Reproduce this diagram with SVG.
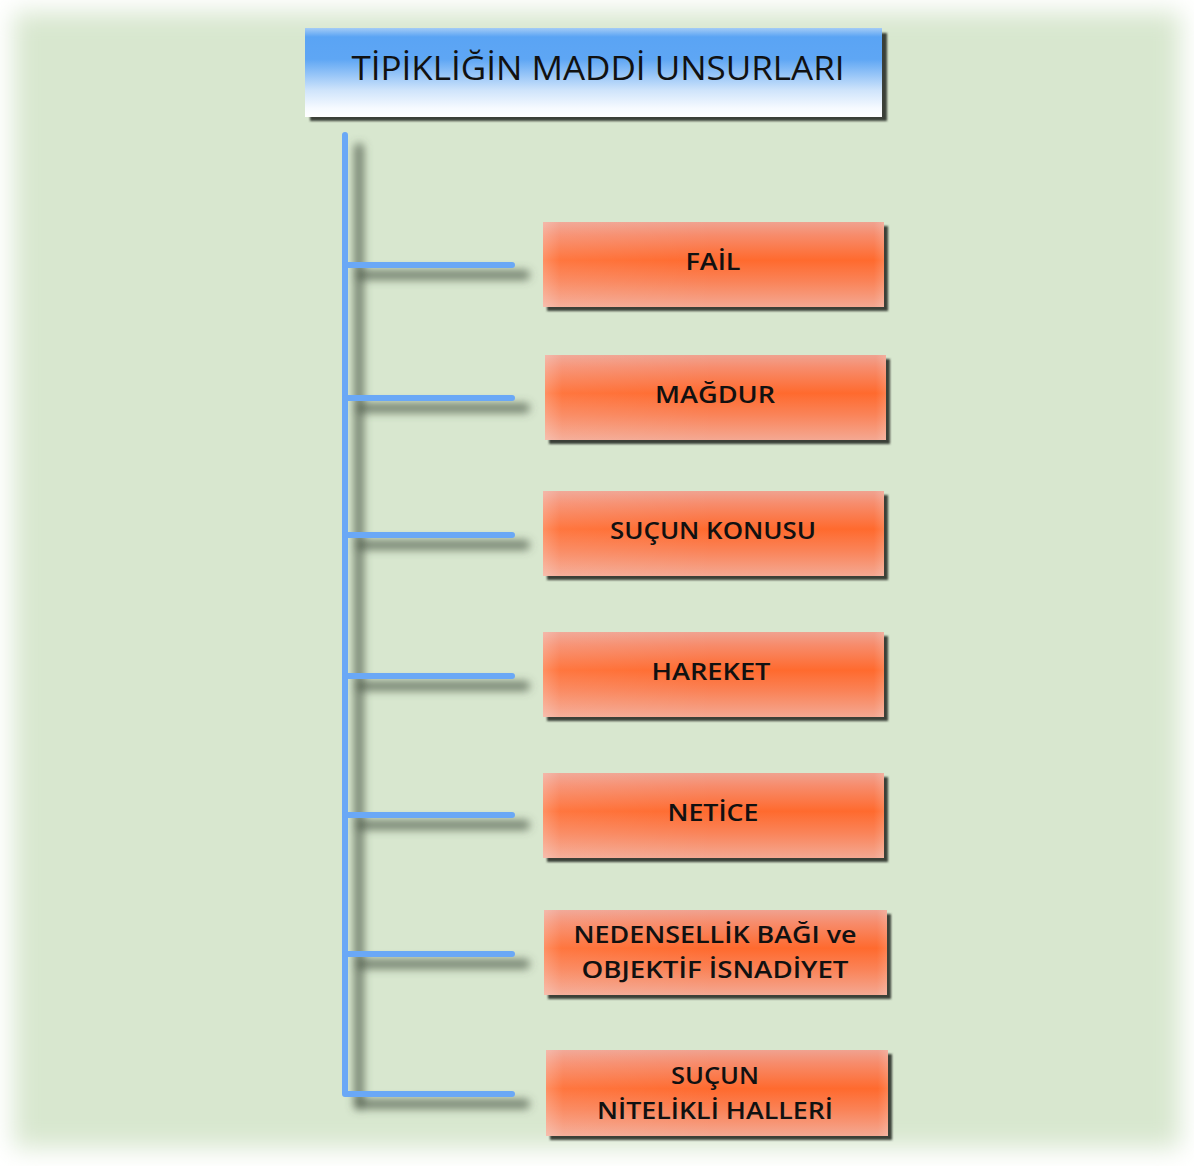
<svg xmlns="http://www.w3.org/2000/svg" width="1194" height="1166" viewBox="0 0 1194 1166">
  <defs>
    <filter id="soft" x="-10%" y="-10%" width="120%" height="120%">
      <feGaussianBlur stdDeviation="12"/>
    </filter>
    <filter id="lineShadow" x="-20%" y="-20%" width="140%" height="140%">
      <feGaussianBlur stdDeviation="4.5"/>
    </filter>
    <filter id="boxShadow" x="-5%" y="-10%" width="110%" height="130%">
      <feGaussianBlur stdDeviation="1.2"/>
    </filter>
    <linearGradient id="blueFill" x1="0" y1="0" x2="0" y2="1">
      <stop offset="0" stop-color="#a4ccf6"/>
      <stop offset="0.1" stop-color="#5aa4f4"/>
      <stop offset="0.35" stop-color="#5ea6f4"/>
      <stop offset="0.7" stop-color="#cfe4fb"/>
      <stop offset="0.9" stop-color="#f6faff"/>
      <stop offset="1" stop-color="#ffffff"/>
    </linearGradient>
    <linearGradient id="orangeFill" x1="0" y1="0" x2="0" y2="1">
      <stop offset="0" stop-color="#f0a290"/>
      <stop offset="0.15" stop-color="#f78c6c"/>
      <stop offset="0.45" stop-color="#ff6a2e"/>
      <stop offset="0.7" stop-color="#fa8358"/>
      <stop offset="1" stop-color="#f4a892"/>
    </linearGradient>
    <linearGradient id="orangeSheen" x1="0" y1="0" x2="1" y2="0">
      <stop offset="0" stop-color="#ffffff" stop-opacity="0.25"/>
      <stop offset="0.05" stop-color="#ffffff" stop-opacity="0.08"/>
      <stop offset="0.5" stop-color="#ffffff" stop-opacity="0"/>
      <stop offset="0.97" stop-color="#ffffff" stop-opacity="0"/>
      <stop offset="1" stop-color="#ffffff" stop-opacity="0.15"/>
    </linearGradient>
  </defs>
  <style>
    .label { font-family: "Open Sans", "Noto Sans", "Liberation Sans", sans-serif; fill: #111; text-anchor: middle; }
    .title { font-size: 33px; font-weight: 500; }
    .item { font-size: 24px; font-weight: 600; }
    .shadowRect { fill: #3a3f38; }
    .box { fill: url(#orangeFill); }
    .sheen { fill: url(#orangeSheen); }
    .wire { fill: none; stroke: #6aa8f6; stroke-width: 6; stroke-linecap: round; stroke-linejoin: round; }
    .wireShadow { fill: none; stroke: #4d5a48; stroke-width: 10; stroke-opacity: 0.7; stroke-linecap: round; }
  </style>

  <!-- page background with soft faded edges -->
  <rect x="0" y="0" width="1194" height="1166" fill="#ffffff"/>
  <rect x="14" y="12" width="1166" height="1136" fill="#d8e7cf" filter="url(#soft)"/>

  <!-- header -->
  <g id="title">
    <rect class="shadowRect" x="310" y="33" width="577" height="88" filter="url(#boxShadow)"/>
    <rect x="305" y="28" width="577" height="89" fill="url(#blueFill)"/>
    <text class="label title" x="598" y="80" textLength="493" lengthAdjust="spacingAndGlyphs">TİPİKLİĞİN MADDİ UNSURLARI</text>
  </g>

  <!-- tree connectors -->
  <g id="connectors">
    <g filter="url(#lineShadow)">
      <path class="wireShadow" d="M359 148 V1105"/>
      <path class="wireShadow" d="M359 275 H525 M359 408 H525 M359 545 H525 M359 686 H525 M359 825 H525 M359 964 H525 M359 1104 H525"/>
    </g>
    <path class="wire" d="M345 135 V1094 H512"/>
    <path class="wire" d="M345 265 H512 M345 398 H512 M345 535 H512 M345 676 H512 M345 815 H512 M345 954 H512"/>
  </g>

  <g id="fail">
    <rect class="shadowRect" x="547" y="226" width="341" height="85" filter="url(#boxShadow)"/>
    <rect class="box" x="543" y="222" width="341" height="85"/>
    <rect class="sheen" x="543" y="222" width="341" height="85"/>
    <text class="label item" x="713" y="270" textLength="55" lengthAdjust="spacingAndGlyphs">FAİL</text>
  </g>

  <g id="magdur">
    <rect class="shadowRect" x="549" y="359" width="341" height="85" filter="url(#boxShadow)"/>
    <rect class="box" x="545" y="355" width="341" height="85"/>
    <rect class="sheen" x="545" y="355" width="341" height="85"/>
    <text class="label item" x="715" y="403" textLength="120" lengthAdjust="spacingAndGlyphs">MAĞDUR</text>
  </g>

  <g id="sucun-konusu">
    <rect class="shadowRect" x="547" y="495" width="341" height="85" filter="url(#boxShadow)"/>
    <rect class="box" x="543" y="491" width="341" height="85"/>
    <rect class="sheen" x="543" y="491" width="341" height="85"/>
    <text class="label item" x="713" y="539" textLength="206" lengthAdjust="spacingAndGlyphs">SUÇUN KONUSU</text>
  </g>

  <g id="hareket">
    <rect class="shadowRect" x="547" y="636" width="341" height="85" filter="url(#boxShadow)"/>
    <rect class="box" x="543" y="632" width="341" height="85"/>
    <rect class="sheen" x="543" y="632" width="341" height="85"/>
    <text class="label item" x="711" y="680" textLength="119" lengthAdjust="spacingAndGlyphs">HAREKET</text>
  </g>

  <g id="netice">
    <rect class="shadowRect" x="547" y="777" width="341" height="85" filter="url(#boxShadow)"/>
    <rect class="box" x="543" y="773" width="341" height="85"/>
    <rect class="sheen" x="543" y="773" width="341" height="85"/>
    <text class="label item" x="713" y="821" textLength="91" lengthAdjust="spacingAndGlyphs">NETİCE</text>
  </g>

  <g id="nedensellik">
    <rect class="shadowRect" x="548" y="914" width="343" height="85" filter="url(#boxShadow)"/>
    <rect class="box" x="544" y="910" width="343" height="85"/>
    <rect class="sheen" x="544" y="910" width="343" height="85"/>
    <text class="label item" x="715" y="943" textLength="283" lengthAdjust="spacingAndGlyphs">NEDENSELLİK BAĞI ve</text>
    <text class="label item" x="715" y="978" textLength="267" lengthAdjust="spacingAndGlyphs">OBJEKTİF İSNADİYET</text>
  </g>

  <g id="nitelikli-haller">
    <rect class="shadowRect" x="550" y="1054" width="342" height="86" filter="url(#boxShadow)"/>
    <rect class="box" x="546" y="1050" width="342" height="86"/>
    <rect class="sheen" x="546" y="1050" width="342" height="86"/>
    <text class="label item" x="715" y="1084" textLength="88" lengthAdjust="spacingAndGlyphs">SUÇUN</text>
    <text class="label item" x="715" y="1119" textLength="236" lengthAdjust="spacingAndGlyphs">NİTELİKLİ HALLERİ</text>
  </g>
</svg>
